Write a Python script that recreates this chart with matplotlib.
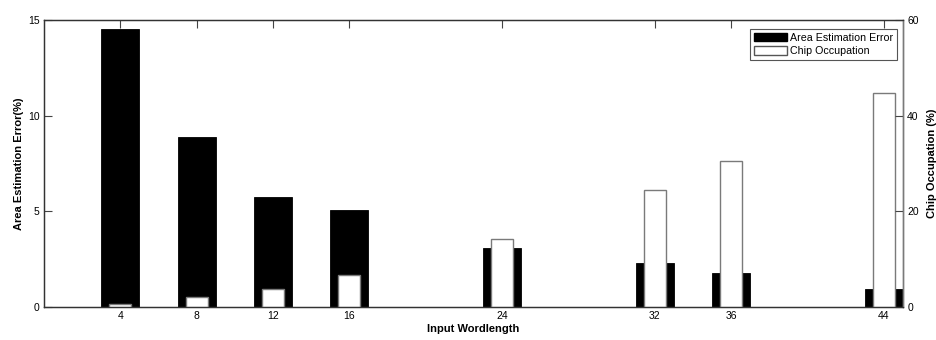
import matplotlib
matplotlib.use("Agg")
import matplotlib.pyplot as plt
from matplotlib.patches import Patch

plt.rcParams['font.family'] = ['Liberation Sans', 'DejaVu Sans']

wordlength = [4, 8, 12, 16, 24, 32, 36, 44]
area_error = [14.55, 8.88, 5.77, 5.09, 3.10, 2.30, 1.79, 0.94]
chip_occupation = [0.6, 2.0, 3.8, 6.7, 14.2, 24.5, 30.6, 44.7]
left_ticks = [0, 5, 10, 15]
right_ticks = [0, 20, 40, 60]

fig = plt.figure(figsize=(9.36, 3.4), dpi=100)
ax1 = fig.add_axes([0.047, 0.097, 0.9177, 0.843])
ax2 = ax1.twinx()

ax1.bar(wordlength, area_error, width=2.0, color='black', edgecolor='black', linewidth=0.6)
ax2.bar(wordlength, chip_occupation, width=1.15, color='white', edgecolor='#7a7a7a', linewidth=1.0)

ax1.set_xlim(0, 45)
ax1.set_ylim(0, 15)
ax2.set_ylim(0, 60)
ax1.set_xticks(wordlength)
ax1.set_yticks(left_ticks)
ax2.set_yticks(right_ticks)

ax1.tick_params(axis='x', direction='in', top=True, bottom=False, length=5.5,
                labelsize=7.5, pad=3, color='#444444')
ax1.tick_params(axis='y', direction='in', length=5.5, labelsize=7.5, pad=3, color='#444444')
ax2.tick_params(axis='y', direction='in', length=5.5, labelsize=7.5, pad=3, color='#444444')

for ax in (ax1, ax2):
    for side in ('left', 'top', 'bottom'):
        ax.spines[side].set_color('#333333')
        ax.spines[side].set_linewidth(0.9)
    ax.spines['right'].set_color('#7a7a7a')
    ax.spines['right'].set_linewidth(1.0)

ax1.set_xlabel('Input Wordlength', fontsize=8, fontweight='bold', labelpad=2)
ax1.set_ylabel('Area Estimation Error(%)', fontsize=8, fontweight='bold', labelpad=3)
ax2.set_ylabel('Chip Occupation (%)', fontsize=8, fontweight='bold', labelpad=6)

handles = [Patch(facecolor='black', edgecolor='black', label='Area Estimation Error'),
           Patch(facecolor='white', edgecolor='#555555', label='Chip Occupation')]
leg = ax2.legend(handles=handles, loc='upper right', fontsize=7.7, fancybox=False,
                 framealpha=1, edgecolor='#555555', handlelength=3.0, handleheight=0.85,
                 handletextpad=0.3, borderpad=0.4, labelspacing=0.3,
                 borderaxespad=0.5, bbox_to_anchor=(0.9995, 0.99))
leg.get_frame().set_linewidth(0.8)

fig.savefig('out.png', dpi=100)
